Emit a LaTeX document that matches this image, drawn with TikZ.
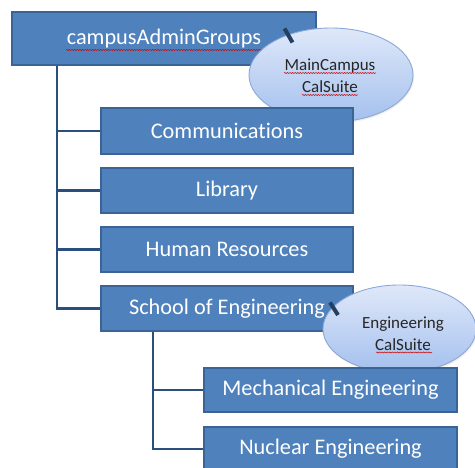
\documentclass[tikz,border=0pt]{standalone}
\usepackage{fontspec}
\setmainfont{Carlito}[Ligatures=NoCommon]
\usetikzlibrary{shapes.geometric,shadows,decorations.pathmorphing}
\definecolor{boxfill}{HTML}{4F81BD}
\definecolor{boxline}{HTML}{3A6496}
\definecolor{wire}{HTML}{2A4E7E}
\definecolor{ovaltop}{HTML}{DFE8F9}
\definecolor{ovalbot}{HTML}{A4C0EE}
\definecolor{ovalline}{HTML}{8BA8D6}
\definecolor{tickcol}{HTML}{243F60}
\begin{document}
\begin{tikzpicture}[x=1pt,y=-1pt,
  orgbox/.style={draw=boxline,line width=1.4pt,fill=boxfill,text=white,
    inner sep=0pt,font=\fontsize{22.3}{26}\selectfont,
    drop shadow={shadow xshift=1.2pt,shadow yshift=-1.5pt,opacity=0.25}},
  oval/.style={ellipse,draw=ovalline,line width=0.9pt,
    top color=ovaltop,bottom color=ovalbot,inner sep=0pt,
    drop shadow={shadow xshift=1pt,shadow yshift=-1.5pt,opacity=0.15}},
  ovaltext/.style={align=center,font=\fontsize{17}{22}\selectfont,text=black!85},
  wireline/.style={draw=wire,line width=2.2pt},
  pointer/.style={draw=tickcol,line width=4pt},
  spell/.style={draw=red!80!black,line width=0.5pt,
    decorate,decoration={snake,amplitude=0.55pt,segment length=2.6pt}}]
\useasboundingbox (0,0) rectangle (475,468);

% top level group
\node[orgbox,minimum width=304pt,minimum height=53pt] (top) at (164,38.5) {campusAdminGroups};
\node[oval,minimum width=164pt,minimum height=94pt] (ovalA) at (331,75) {};
\node[ovaltext] (ovalAtext) at (330,76) {MainCampus\\CalSuite};

% departments
\node[orgbox,minimum width=252pt,minimum height=46pt] (comm) at (227,131) {Communications};
\node[orgbox,minimum width=252pt,minimum height=45pt] (lib) at (227,190.5) {Library};
\node[orgbox,minimum width=252pt,minimum height=45pt] (hr) at (227,249.5) {Human Resources};
\node[orgbox,minimum width=252pt,minimum height=45pt] (school) at (227,308.5) {School of Engineering};
\node[oval,minimum width=153pt,minimum height=88pt] (ovalB) at (399.5,329) {};
\node[ovaltext] (ovalBtext) at (403,334) {Engineering\\CalSuite};

% engineering sub-groups
\node[orgbox,minimum width=253pt,minimum height=44pt] (mech) at (330.5,390) {Mechanical Engineering};
\node[orgbox,minimum width=253pt,minimum height=44pt] (nuc) at (330.5,449) {Nuclear Engineering};

% tree connectors
\coordinate (trunk) at (57,0);
\coordinate (branch) at (153,0);
\draw[wireline] (top.south -| trunk) |- (comm.west);
\draw[wireline] (top.south -| trunk) |- (lib.west);
\draw[wireline] (top.south -| trunk) |- (hr.west);
\draw[wireline] (top.south -| trunk) |- (school.west);
\draw[wireline] (school.south -| branch) |- (mech.west);
\draw[wireline] (school.south -| branch) |- (nuc.west);

% callout pointers
\coordinate (pa1) at (284.5,28.5);
\coordinate (pa2) at (292.5,42.5);
\coordinate (pb1) at (330,302.5);
\coordinate (pb2) at (338,315);
\draw[pointer] (pa1) -- (pa2);
\draw[pointer] (pb1) -- (pb2);

% spell-check underlines
\coordinate (s1a) at (66,50);  \coordinate (s1b) at (261,50);
\coordinate (s2a) at (284,73);   \coordinate (s2b) at (376,73);
\coordinate (s3a) at (302,95);   \coordinate (s3b) at (358,95);
\coordinate (s4a) at (376,352.5); \coordinate (s4b) at (432,352.5);
\draw[spell] (s1a) -- (s1b);
\draw[spell] (s2a) -- (s2b);
\draw[spell] (s3a) -- (s3b);
\draw[spell] (s4a) -- (s4b);
\end{tikzpicture}
\end{document}
